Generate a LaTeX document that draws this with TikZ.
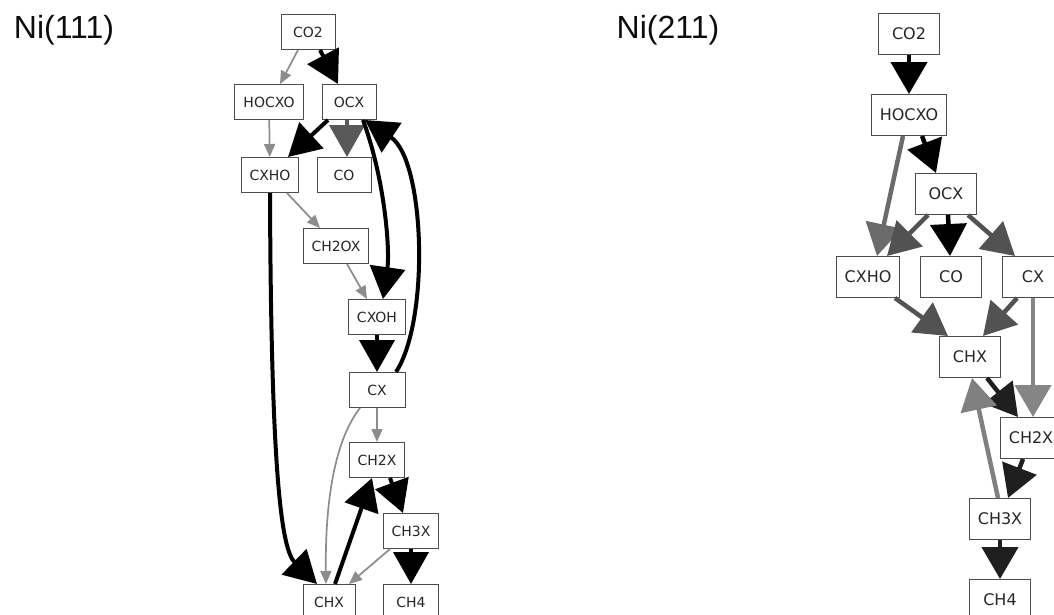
\documentclass[tikz,border=0pt]{standalone}
\usepackage{fontspec}
\setmainfont{DejaVu Sans}
\newfontfamily\arialfont{Liberation Sans}
\usetikzlibrary{arrows.meta,positioning}
\tikzset{x=1pt, y=-1pt, % one unit is one pixel of the figure, y going down
spec/.style={draw=black!70, fill=white, text=black!85, inner sep=0pt, line width=1pt}, % species box
specA/.style={spec, minimum width=52pt, minimum height=35pt, inner xsep=8.5pt, font=\fontsize{14}{14}\selectfont}, % Ni(111) boxes
specB/.style={spec, minimum width=61pt, minimum height=41pt, inner xsep=8.5pt, font=\fontsize{16}{16}\selectfont}, % Ni(211) boxes
title/.style={font=\arialfont\fontsize{32}{32}\selectfont, text=black!95},
minor/.style={draw=black!45, line width=1.7pt, -{Triangle[length=13pt,width=11pt]}}, % weak flux
major/.style={draw=#1, line width=4pt, -{Triangle[length=32pt,width=35pt]}}, % strong flux
major/.default=black,
fluxB/.style={draw=#1, line width=4.5pt, -{Triangle[length=32pt,width=36pt]}}, % flux on Ni(211)
}

\begin{document}
\begin{tikzpicture}
\useasboundingbox (0,0) rectangle (1054,614);
\clip (0,0) rectangle (1054,614);
\node[title] (t111) at (64,30) {Ni(111)};
\node[title] (t211) at (668,30) {Ni(211)};
% Ni(111)
\node[specA, minimum width=54pt] (CO2) at (308,32) {CO2};
\node[specA] (HOCXO) at (269,102) {HOCXO};
\node[specA, minimum width=54pt] (OCX) at (349,102) {OCX};
\node[specA] (CXHO) at (270,175) {CXHO};
\node[specA, minimum width=54pt] (CO) at (344,175) {CO};
\node[specA] (CH2OX) at (336,246) {CH2OX};
\node[specA] (CXOH) at (377,317) {CXOH};
\node[specA, minimum width=56pt] (CX) at (377,390) {CX};
\node[specA] (CH2X) at (377,460) {CH2X};
\node[specA] (CH3X) at (411,531) {CH3X};
\node[specA] (CHX) at (329,602) {CHX};
\node[specA, minimum width=55pt] (CH4) at (411,602) {CH4};
\draw[minor] ([xshift=-10pt]CO2.south) -- ([xshift=11pt]HOCXO.north);
\draw[major] ([xshift=12pt]CO2.south) -- ([xshift=-11pt]OCX.north);
\draw[minor] (HOCXO) -- (CXHO);
\draw[major] ([xshift=-21pt]OCX.south) -- ([xshift=18pt]CXHO.north);
\draw[major=black!65] ([xshift=-2pt]OCX.south) -- ([xshift=3pt]CO.north);
\draw[major] ([xshift=14pt]OCX.south) .. controls (385,180) and (390,250) .. ([xshift=6pt]CXOH.north);
\draw[major] ([xshift=19pt]CX.north) .. controls (430,320) and (425,160) .. ([xshift=16pt]OCX.south);
\draw[minor] ([xshift=17pt]CXHO.south) -- ([xshift=-16pt]CH2OX.north);
\draw[minor] ([xshift=11pt]CH2OX.south) -- ([xshift=-10pt]CXOH.north);
\draw[major] (CXOH) -- (CX);
\draw[minor] (CX) -- (CH2X);
\draw[minor] ([xshift=-17pt]CX.south) .. controls (335,440) and (325,500) .. ([xshift=-3pt]CHX.north);
\draw[major] (CXHO.south) .. controls (271,480) and (282,550) .. ([xshift=-12pt]CHX.north);
\draw[major] ([xshift=6pt]CHX.north) -- ([xshift=-5pt]CH2X.south);
\draw[major] ([xshift=13pt]CH2X.south) -- ([xshift=-8pt]CH3X.north);
\draw[minor] ([xshift=-21pt]CH3X.south) -- ([xshift=20pt]CHX.north);
\draw[major] (CH3X) -- (CH4);
% Ni(211)
\node[specB] (CO2b) at (909,34) {CO2};
\node[specB] (HOCXOb) at (909,115) {HOCXO};
\node[specB] (OCXb) at (946,194) {OCX};
\node[specB] (CXHOb) at (868,277) {CXHO};
\node[specB] (COb) at (951,277) {CO};
\node[specB] (CXb) at (1033,277) {CX};
\node[specB] (CHXb) at (970,357) {CHX};
\node[specB] (CH2Xb) at (1031,438) {CH2X};
\node[specB] (CH3Xb) at (1000,519) {CH3X};
\node[specB] (CH4b) at (1000,600) {CH4};
\draw[fluxB=black] (CO2b) -- (HOCXOb);
\draw[fluxB=black] ([xshift=13pt]HOCXOb.south) -- ([xshift=-10pt]OCXb.north);
\draw[fluxB=black!58] ([xshift=-6pt]HOCXOb.south) -- ([xshift=9pt]CXHOb.north);
\draw[fluxB=black!68] ([xshift=-18pt]OCXb.south) -- ([xshift=19pt]CXHOb.north);
\draw[fluxB=black] ([xshift=2pt]OCXb.south) -- ([xshift=-1pt]COb.north);
\draw[fluxB=black!68] ([xshift=22pt]OCXb.south) -- ([xshift=-18pt]CXb.north);
\draw[fluxB=black!68] ([xshift=27pt]CXHOb.south) -- ([xshift=-22pt]CHXb.north);
\draw[fluxB=black!68] ([xshift=-16pt]CXb.south) -- ([xshift=13pt]CHXb.north);
\draw[fluxB=black!48] (CXb.south) -- (CXb.south |- CH2Xb.north);
\draw[fluxB=black!88] ([xshift=17pt]CHXb.south) -- ([xshift=-13pt]CH2Xb.north);
\draw[fluxB=black!50] ([xshift=-2pt]CH3Xb.north) -- ([xshift=2pt]CHXb.south);
\draw[fluxB=black!88] ([xshift=-8pt]CH2Xb.south) -- ([xshift=8pt]CH3Xb.north);
\draw[fluxB=black!88] (CH3Xb) -- (CH4b);
\end{tikzpicture}
\end{document}
